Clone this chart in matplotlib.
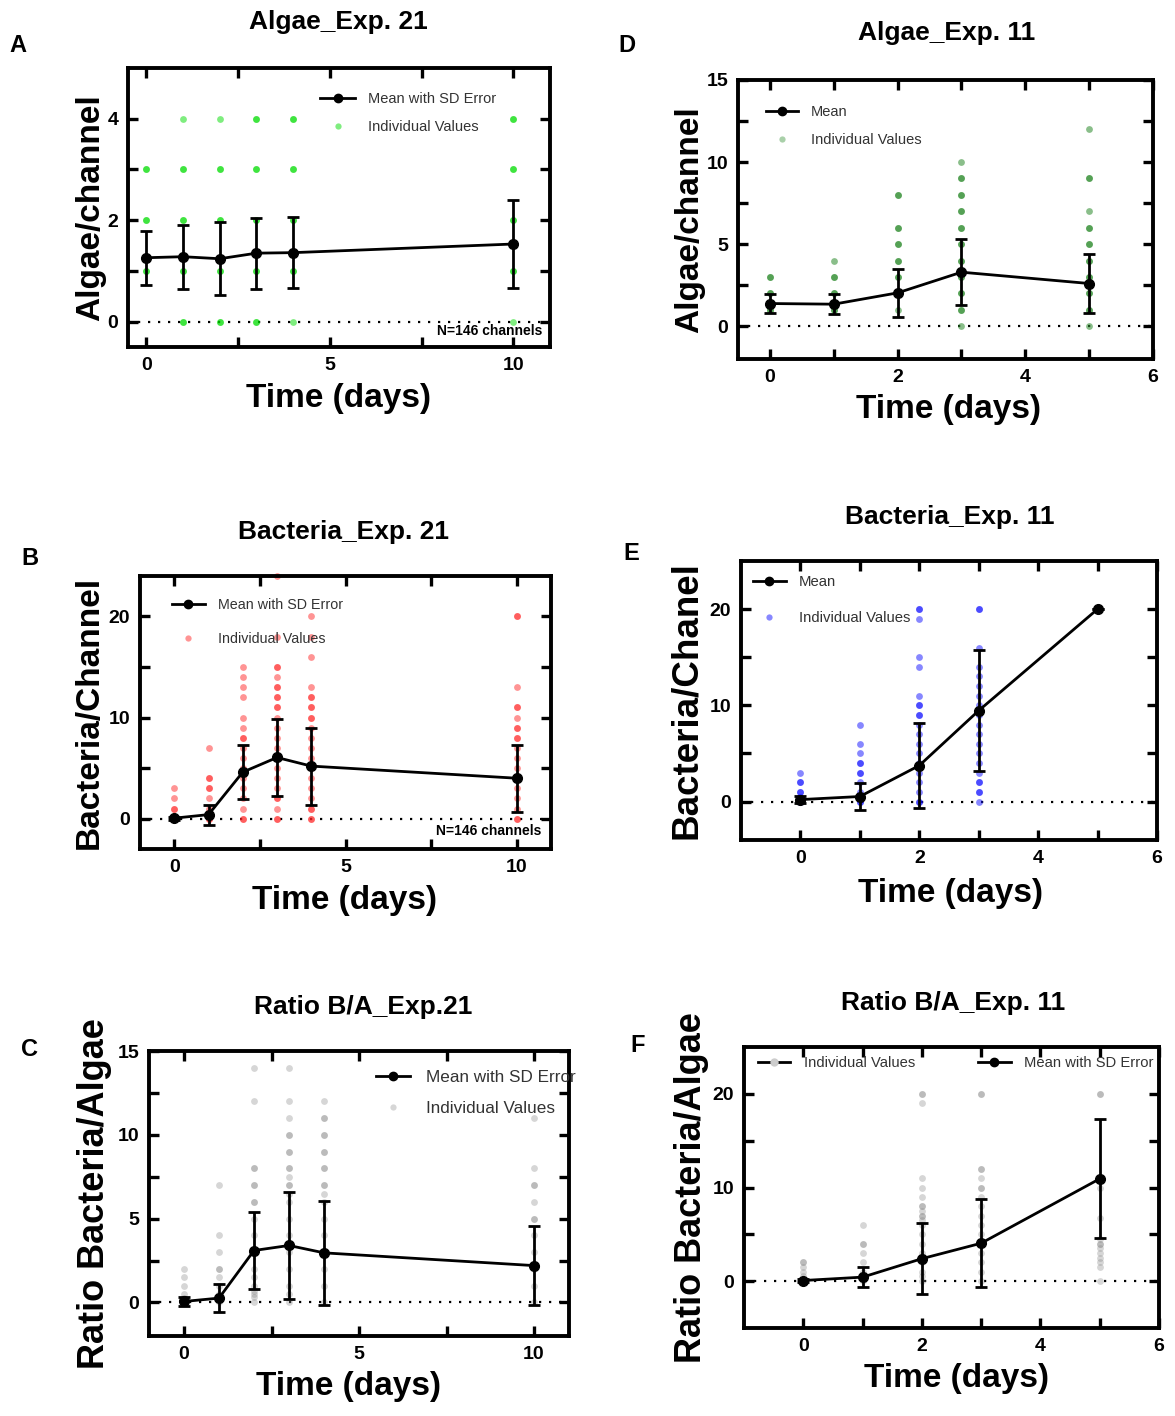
import matplotlib
matplotlib.use("Agg")
import numpy as np
import matplotlib.pyplot as plt
from matplotlib.lines import Line2D

plt.rcParams['font.family'] = ['Liberation Sans', 'DejaVu Sans']

# ---- data ----
# A: Algae, Exp. 21
a21_days = [0, 1, 2, 3, 4, 10]
a21_mean = [1.26, 1.28, 1.24, 1.35, 1.36, 1.53]
a21_sd = [0.53, 0.63, 0.72, 0.70, 0.70, 0.87]
a21_pts = [
    [1, 1, 2, 2, 3, 3],
    [0, 0, 1, 1, 2, 2, 3, 3, 4],
    [0, 0, 1, 1, 2, 2, 3, 3, 4],
    [0, 0, 1, 1, 2, 2, 3, 3, 4, 4],
    [0, 1, 1, 2, 2, 3, 3, 4, 4],
    [0, 1, 1, 2, 2, 3, 3, 4, 4],
]

# B: Bacteria, Exp. 21
b21_days = [0, 1, 2, 3, 4, 10]
b21_mean = [0.05, 0.4, 4.6, 6.05, 5.2, 4.0]
b21_sd = [0.15, 1.0, 2.65, 3.8, 3.8, 3.3]
b21_pts = [
    [0, 0, 1, 1, 2, 3],
    [0, 0, 1, 2, 3, 3, 4, 4, 7],
    [0, 0, 1, 2, 3, 4, 5, 6, 7, 8, 8, 9, 10, 12, 13, 14, 15],
    [0, 0, 1, 2, 2, 3, 4, 5, 6, 7, 8, 9, 10, 11, 11, 12, 12, 13, 13, 14, 15, 15, 18, 24],
    [0, 0, 1, 1, 2, 3, 4, 5, 6, 7, 8, 9, 10, 10, 11, 11, 12, 12, 13, 16, 18, 20],
    [0, 0, 1, 2, 3, 4, 5, 6, 7, 8, 8, 9, 9, 10, 11, 11, 13, 20, 20],
]

# C: Ratio B/A, Exp. 21
c21_days = [0, 1, 2, 3, 4, 10]
c21_mean = [0.06, 0.26, 3.1, 3.4, 2.96, 2.2]
c21_sd = [0.25, 0.85, 2.3, 3.2, 3.1, 2.35]
c21_pts = [
    [0, 0, 0.25, 0.5, 1, 1.5, 2],
    [0, 0.5, 1, 1.5, 2, 2, 3, 4, 7],
    [0, 0.33, 0.5, 0.67, 1, 1.5, 2, 3, 4, 5, 6, 6, 7, 7, 8, 8, 12, 14],
    [0, 0.5, 1, 2, 3, 4, 5, 6, 6.5, 7, 7, 7.5, 8, 8, 9, 9, 10, 10, 11, 12, 14],
    [0, 1, 2, 3, 4, 5, 6, 6.5, 7, 7, 8, 8, 9, 9, 10, 10, 11, 11, 12],
    [0, 1, 2, 3, 4, 5, 5, 6, 7, 7, 8, 11],
]

# D: Algae, Exp. 11
a11_days = [0, 1, 2, 3, 5]
a11_mean = [1.38, 1.34, 2.03, 3.29, 2.6]
a11_sd = [0.6, 0.6, 1.45, 2.0, 1.78]
a11_pts = [
    [1, 1, 2, 2, 3, 3],
    [1, 1, 2, 2, 3, 3, 4],
    [1, 2, 2, 3, 3, 4, 4, 5, 5, 6, 6, 8, 8],
    [0, 1, 1, 2, 2, 3, 3, 4, 4, 5, 5, 6, 6, 7, 7, 8, 8, 9, 9, 10],
    [0, 1, 1, 2, 2, 3, 3, 4, 4, 5, 5, 6, 6, 7, 9, 9, 12],
]

# E: Bacteria, Exp. 11
b11_days = [0, 1, 2, 3, 5]
b11_mean = [0.2, 0.52, 3.74, 9.45, 20.0]
b11_sd = [0.4, 1.38, 4.4, 6.25, 0.0]
b11_pts = [
    [0, 0, 0.5, 1, 1, 2, 2, 3],
    [0, 0, 1, 2, 3, 3, 4, 4, 5, 6, 8],
    [0, 0, 1, 2, 3, 4, 5, 6, 7, 8, 9, 9, 10, 10, 11, 14, 15, 19, 20, 20],
    [0, 1, 1, 2, 2, 3, 4, 5, 6, 7, 8, 9, 10, 11, 12, 13, 14, 16, 20, 20],
    [20],
]

# F: Ratio B/A, Exp. 11
r11_days = [0, 1, 2, 3, 5]
r11_mean = [0.07, 0.43, 2.4, 4.05, 10.93]
r11_sd = [0.2, 1.1, 3.8, 4.7, 6.37]
r11_pts = [
    [0, 0, 0.5, 1, 1.5, 2, 2],
    [0, 0.5, 1, 2, 3, 4, 4, 6],
    [0, 0.5, 1, 2, 3, 4, 5, 6, 6.5, 7, 7, 7.5, 8, 8, 9, 10, 11, 19, 20, 20],
    [0, 1, 2, 3, 4, 5, 6, 7, 8, 9, 10, 10, 11, 12, 12, 20, 20],
    [0, 1.5, 2, 2.5, 3, 3.5, 4, 4, 4.5, 6.7, 10, 20, 20],
]

W, H = 1175, 1416
fig = plt.figure(figsize=(W / 100, H / 100), dpi=100)


def px_axes(l, t, r, b):
    ax = fig.add_axes([l / W, 1 - b / H, (r - l) / W, (b - t) / H])
    ax.box_px = (l, t, r, b)
    return ax


def fig_text(x, y, s, size):
    fig.text(x / W, 1 - y / H, s, ha='center', va='center', fontsize=size, fontweight='bold')


def draw(ax, days, mean, sd, pts, color, alpha, xlim, ylim, xt, xm, yt, ym):
    for d, vals in zip(days, pts):
        ax.scatter(np.full(len(vals), d), vals, s=24, color=color, alpha=alpha,
                   linewidths=0, zorder=2, clip_on=False)
    ax.errorbar(days, mean, yerr=sd, color='k', lw=2, marker='o', ms=7,
                capsize=4, capthick=2, elinewidth=2, zorder=3)
    ax.axhline(0, color='k', ls=(0, (1, 3.5)), lw=1.6, zorder=1)
    ax.set_xlim(xlim)
    ax.set_ylim(ylim)
    ax.set_xticks(xt)
    ax.set_xticklabels([str(v) for v in xt], fontweight='bold', fontsize=14)
    ax.set_xticks(xm, minor=True)
    ax.set_yticks(yt)
    ax.set_yticklabels([str(v) for v in yt], fontweight='bold', fontsize=14)
    ax.set_yticks(ym, minor=True)
    ax.tick_params(which='both', direction='in', top=True, right=True,
                   length=7, width=2.4, pad=7)
    for s in ax.spines.values():
        s.set_linewidth(2.8)


def labels(ax, ylab, ysize, ylab_x, xlab_x, xlab_y):
    l, t, r, b = ax.box_px
    ax.set_ylabel(ylab, fontsize=ysize, fontweight='bold')
    ax.yaxis.set_label_coords((ylab_x - l) / (r - l), 0.5)
    ax.set_xlabel('Time (days)', fontsize=24, fontweight='bold')
    ax.xaxis.set_label_coords((xlab_x - l) / (r - l), (b - xlab_y) / (b - t))


def legend(ax, handles, texts, left, top, size, hlen, spacing, ncol=1, colsp=2.0):
    l, t, r, b = ax.box_px
    ax.legend(handles, texts, loc='upper left',
              bbox_to_anchor=((left - l) / (r - l), (b - top) / (b - t)),
              frameon=False, fontsize=size, labelcolor='#333333',
              handlelength=hlen, handletextpad=0.9, labelspacing=spacing,
              borderaxespad=0, borderpad=0, ncol=ncol, columnspacing=colsp)


def mean_h():
    return Line2D([], [], color='k', lw=2, marker='o', ms=6)


def dot_h(color, alpha):
    return Line2D([], [], ls='none', marker='o', ms=4.5, color=color, alpha=alpha, mew=0)


# ---- A ----
green, green_a = '#00dd00', 0.5
axA = px_axes(128, 68, 550, 347)
draw(axA, a21_days, a21_mean, a21_sd, a21_pts, green, green_a,
     (-0.5, 11), (-0.5, 5), [0, 5, 10], [2.5, 7.5], [0, 2, 4], [1, 3])
labels(axA, 'Algae/channel', 24, 106, 338, 383)
legend(axA, [mean_h(), dot_h(green, green_a)], ['Mean with SD Error', 'Individual Values'],
       320, 92, 10.5, 2.4, 0.95)
axA.text(0.981, 0.057, 'N=146 channels', transform=axA.transAxes, ha='right', va='center',
         fontsize=10, fontweight='bold')
fig_text(338, 22, 'Algae_Exp. 21', 19)
fig_text(18, 46, 'A', 17)

# ---- B ----
red, red_a = '#ff2a2a', 0.5
axB = px_axes(140, 576, 551, 849)
draw(axB, b21_days, b21_mean, b21_sd, b21_pts, red, red_a,
     (-1, 11), (-3, 24), [0, 5, 10], [2.5, 7.5], [0, 10, 20], [5, 15])
labels(axB, 'Bacteria/Channel', 24, 105, 345, 885)
legend(axB, [mean_h(), dot_h(red, red_a)], ['Mean with SD Error', 'Individual Values'],
       172, 598, 10.3, 2.3, 1.4)
axB.text(0.976, 0.066, 'N=146 channels', transform=axB.transAxes, ha='right', va='center',
         fontsize=10, fontweight='bold')
fig_text(344, 532, 'Bacteria_Exp. 21', 19)
fig_text(30, 558, 'B', 17)

# ---- C ----
grey, grey_a = '#8a8a8a', 0.35
axC = px_axes(149, 1051, 569, 1336)
draw(axC, c21_days, c21_mean, c21_sd, c21_pts, grey, grey_a,
     (-1, 11), (-2, 15), [0, 5, 10], [2.5, 7.5], [0, 5, 10, 15], [2.5, 7.5, 12.5])
labels(axC, 'Ratio Bacteria/Algae', 26, 112, 349, 1371)
legend(axC, [mean_h(), dot_h(grey, grey_a)], ['Mean with SD Error', 'Individual Values'],
       376, 1070, 12.3, 2.0, 0.95)
fig_text(363, 1007, 'Ratio B/A_Exp.21', 19)
fig_text(30, 1050, 'C', 17)

# ---- D ----
dgreen, dgreen_a = '#2a8a2a', 0.55
axD = px_axes(738, 80, 1153, 359)
draw(axD, a11_days, a11_mean, a11_sd, a11_pts, dgreen, dgreen_a,
     (-0.5, 6), (-2, 15), [0, 2, 4, 6], [1, 3, 5], [0, 5, 10, 15], [2.5, 7.5, 12.5])
labels(axD, 'Algae/channel', 24, 705, 948, 394)
legend(axD, [mean_h(), dot_h(dgreen, 0.4)], ['Mean', 'Individual Values'],
       766, 105, 10.5, 2.2, 0.95)
fig_text(947, 33, 'Algae_Exp. 11', 19)
fig_text(627, 46, 'D', 17)

# ---- E ----
blue, blue_a = '#1010ff', 0.5
axE = px_axes(741, 561, 1157, 840)
draw(axE, b11_days, b11_mean, b11_sd, b11_pts, blue, blue_a,
     (-1, 6), (-4, 25), [0, 2, 4, 6], [1, 3, 5], [0, 10, 20], [5, 15])
labels(axE, 'Bacteria/Chanel', 26.5, 704, 951, 878)
legend(axE, [mean_h(), dot_h(blue, blue_a)], ['Mean', 'Individual Values'],
       753, 575, 10.7, 2.2, 1.5)
fig_text(950, 517, 'Bacteria_Exp. 11', 19)
fig_text(631, 553, 'E', 17)

# ---- F ----
axF = px_axes(744, 1047, 1159, 1328)
draw(axF, r11_days, r11_mean, r11_sd, r11_pts, grey, grey_a,
     (-1, 6), (-5, 25), [0, 2, 4, 6], [1, 3, 5], [0, 10, 20], [5, 15])
labels(axF, 'Ratio Bacteria/Algae', 26, 709, 956, 1363)
ind_h = Line2D([], [], color='k', lw=2, marker='o', ms=5, mfc='#cccccc', mec='#cccccc')
legend(axF, [ind_h, mean_h()], ['Individual Values', 'Mean with SD Error'],
       758, 1056, 10.6, 2.2, 0.95, ncol=2, colsp=4.3)
fig_text(953, 1003, 'Ratio B/A_Exp. 11', 19)
fig_text(638, 1045, 'F', 17)

fig.savefig('out.png', dpi=100)
